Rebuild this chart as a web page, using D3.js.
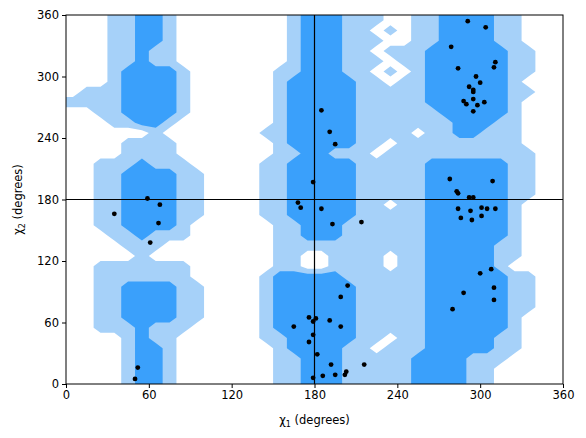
<!DOCTYPE html>
<html>
<head>
<meta charset="utf-8">
<script src="https://cdn.jsdelivr.net/npm/d3@7"></script>
<style>
  body { margin: 0; background: #fff; }
  text { font-family: "DejaVu Sans", sans-serif; }
</style>
</head>
<body>
<svg width="586" height="438"></svg>
<script>
const WIDTH = 586;
const HEIGHT = 438;
const margin = { top: 15, right: 23, bottom: 54, left: 66 };

const xTicks = [0, 60, 120, 180, 240, 300, 360];
const yTicks = [0, 60, 120, 180, 240, 300, 360];
const levelColors = ['#a6d1f9', '#3aa0fb'];

// density levels per 10-degree cell, rows from chi2 = 360 down to 0,
// each row is a list of [firstColumn, lastColumn, level] runs (chi1 columns of 10 degrees)
const densityRows = [
  [[3,7,1],[5,6,2],[16,22,1],[17,19,2],[25,32,1],[27,30,2]],
  [[3,7,1],[5,6,2],[16,21,1],[17,19,2],[23,23,1],[25,32,1],[27,30,2]],
  [[3,7,1],[5,6,2],[16,22,1],[17,19,2],[25,32,1],[27,30,2]],
  [[3,7,1],[5,5,2],[16,21,1],[17,19,2],[23,24,1],[25,33,1],[26,31,2]],
  [[3,7,1],[5,5,2],[16,22,1],[17,19,2],[24,33,1],[26,31,2]],
  [[3,8,1],[4,7,2],[15,21,1],[17,19,2],[23,23,1],[25,33,1],[26,31,2]],
  [[3,8,1],[4,7,2],[15,22,1],[16,20,2],[24,32,1],[26,31,2]],
  [[1,8,1],[4,7,2],[22,24,1],[15,21,1],[16,20,2],[25,33,1],[26,31,2]],
  [[0,0,1],[1,8,1],[4,7,2],[22,24,1],[15,22,1],[16,20,2],[24,32,1],[26,31,2]],
  [[2,8,1],[4,7,2],[22,24,1],[15,21,1],[16,20,2],[25,32,1],[27,31,2]],
  [[3,7,1],[5,6,2],[22,24,1],[15,22,1],[16,20,2],[24,32,1],[28,30,2]],
  [[6,6,1],[22,24,1],[14,21,1],[16,20,2],[26,32,1],[28,29,2]],
  [[4,7,1],[22,24,1],[15,22,1],[16,20,2],[25,32,1]],
  [[4,7,1],[22,24,1],[15,21,1],[17,18,2],[25,33,1]],
  [[2,8,1],[5,5,2],[22,24,1],[14,22,1],[16,20,2],[24,33,1],[26,31,2]],
  [[2,9,1],[4,7,2],[22,24,1],[14,22,1],[16,20,2],[24,33,1],[26,31,2]],
  [[2,9,1],[4,7,2],[22,24,1],[14,22,1],[16,20,2],[24,33,1],[26,31,2]],
  [[2,9,1],[4,7,2],[22,24,1],[14,22,1],[16,20,2],[24,33,1],[26,31,2]],
  [[2,9,1],[4,7,2],[22,24,1],[14,22,1],[16,20,2],[24,32,1],[26,31,2]],
  [[2,9,1],[4,7,2],[22,24,1],[14,22,1],[16,20,2],[25,32,1],[26,31,2]],
  [[2,8,1],[4,7,2],[22,24,1],[15,21,1],[17,19,2],[24,32,1],[26,31,2]],
  [[3,8,1],[5,5,2],[22,24,1],[15,21,1],[17,19,2],[25,32,1],[26,31,2]],
  [[4,6,1],[22,24,1],[15,23,1],[25,32,1],[26,30,2]],
  [[5,5,1],[22,24,1],[15,22,1],[17,18,0],[24,32,1],[26,30,2]],
  [[2,8,1],[22,24,1],[15,23,1],[17,18,0],[25,31,1],[26,30,2]],
  [[2,8,1],[22,24,1],[14,22,1],[15,19,2],[24,33,1],[26,31,2]],
  [[2,9,1],[4,7,2],[22,24,1],[14,23,1],[15,20,2],[25,33,1],[26,31,2]],
  [[2,9,1],[4,7,2],[22,24,1],[14,22,1],[15,20,2],[24,33,1],[26,31,2]],
  [[2,9,1],[4,7,2],[22,24,1],[14,23,1],[15,20,2],[25,33,1],[26,31,2]],
  [[2,9,1],[4,7,2],[22,24,1],[14,22,1],[15,20,2],[24,32,1],[26,31,2]],
  [[2,8,1],[5,5,2],[22,24,1],[14,22,1],[15,20,2],[25,32,1],[26,31,2]],
  [[4,7,1],[5,5,2],[22,24,1],[14,22,1],[16,20,2],[24,32,1],[26,30,2]],
  [[4,7,1],[5,6,2],[22,24,1],[15,22,1],[16,19,2],[24,32,1],[26,30,2]],
  [[4,7,1],[5,6,2],[22,24,1],[15,22,1],[17,19,2],[24,31,1],[25,28,2]],
  [[4,7,1],[5,6,2],[22,24,1],[15,21,1],[17,19,2],[24,30,1],[25,28,2]],
  [[4,7,1],[5,6,2],[22,24,1],[15,21,1],[17,19,2],[24,30,1],[25,28,2]]
];
// white holes inside the light region, [row, column]
const holes = [[12,23],[13,22],[23,23],[24,23],[31,23],[32,22],[18,23]];

const chi1 = [59,68,35,67,61,52,50,
  185,191,195,179,168,170,185,193,214,204,199,176,181,179,191,165,199,179,176,182,192,216,186,195,202,203,179,
  291,304,279,311,310,284,297,300,292,295,295,295,288,290,298,303,295,278,309,283,284,292,295,284,293,301,305,311,286,294,301,300,308,310,288,310,280];
const chi2 = [181,175,166,157,138,16,5,
  267,246,234,197,177,172,171,156,158,96,85,65,64,61,62,56,56,48,41,29,19,19,8,9,9,12,6,
  354,348,329,314,309,308,300,294,290,287,285,278,276,273,272,275,266,200,198,188,186,182,182,171,169,172,171,171,162,160,164,108,112,94,89,82,73];

const svg = d3.select('svg');
const innerW = WIDTH - margin.left - margin.right;
const innerH = HEIGHT - margin.top - margin.bottom;

const xScale = d3.scaleLinear().domain([0, 360]).range([0, innerW]);
const yScale = d3.scaleLinear().domain([0, 360]).range([innerH, 0]);

// grid padded by one cell on every side (edge values repeated)
const n = 36;
const cells = densityRows.map(row => {
  const line = new Array(n).fill(0);
  row.forEach(([a, b, v]) => { for (let c = a; c <= b; c++) line[c] = v; });
  return line;
});
holes.forEach(([r, c]) => { cells[r][c] = 0; });
const gw = n + 2;
const values = new Array(gw * gw).fill(0);
for (let gy = 0; gy < gw; gy++) {
  for (let gx = 0; gx < gw; gx++) {
    const r = Math.min(n - 1, Math.max(0, gy - 1));
    const c = Math.min(n - 1, Math.max(0, gx - 1));
    values[gy * gw + gx] = cells[r][c];
  }
}
const contours = d3.contours().size([gw, gw]).thresholds([0.5, 1.5])(values);
const gToX = g => xScale((g - 1) * 10);
const gToY = g => yScale(360 - (g - 1) * 10);
const proj = d3.geoTransform({
  point(x, y) { this.stream.point(gToX(x), gToY(y)); }
});
const path = d3.geoPath(proj);

svg.append('defs').append('clipPath').attr('id', 'clip')
  .append('rect').attr('width', innerW).attr('height', innerH);

const plot = svg.append('g').attr('transform', `translate(${margin.left},${margin.top})`);

plot.append('g').attr('clip-path', 'url(#clip)')
  .selectAll('path')
  .data(contours)
  .enter()
  .append('path')
  .attr('d', path)
  .attr('fill', (d, i) => levelColors[i]);

plot.append('line')
  .attr('x1', xScale(180)).attr('x2', xScale(180))
  .attr('y1', 0).attr('y2', innerH)
  .attr('stroke', '#000').attr('stroke-width', 1.2);
plot.append('line')
  .attr('x1', 0).attr('x2', innerW)
  .attr('y1', yScale(180)).attr('y2', yScale(180))
  .attr('stroke', '#000').attr('stroke-width', 1.2);

plot.selectAll('circle')
  .data(chi1)
  .enter()
  .append('circle')
  .attr('cx', (d, i) => xScale(d))
  .attr('cy', (d, i) => yScale(chi2[i]))
  .attr('r', 2.4)
  .attr('fill', '#000');

plot.append('rect')
  .attr('width', innerW).attr('height', innerH)
  .attr('fill', 'none').attr('stroke', '#000').attr('stroke-width', 1);

const bottomAxis = d3.axisBottom(xScale).tickValues(xTicks).tickSize(4).tickPadding(3);
const leftAxis = d3.axisLeft(yScale).tickValues(yTicks).tickSize(4).tickPadding(3);
const gx = plot.append('g').attr('transform', `translate(0,${innerH})`).call(bottomAxis);
const gy = plot.append('g').call(leftAxis);
[gx, gy].forEach(g => {
  g.select('.domain').remove();
  g.selectAll('text').attr('font-size', 11.5).attr('fill', '#000')
    .attr('font-family', 'DejaVu Sans, sans-serif');
  g.selectAll('line').attr('stroke', '#000');
});

const xl = svg.append('text')
  .attr('x', margin.left + innerW / 2).attr('y', 424)
  .attr('text-anchor', 'middle').attr('font-size', 11.5);
xl.append('tspan').text('χ');
xl.append('tspan').text('1').attr('font-size', 8).attr('dy', 3);
xl.append('tspan').text(' (degrees)').attr('dy', -3);

const yl = svg.append('text')
  .attr('transform', `translate(22,${margin.top + innerH / 2}) rotate(-90)`)
  .attr('text-anchor', 'middle').attr('font-size', 11.5);
yl.append('tspan').text('χ');
yl.append('tspan').text('2').attr('font-size', 8).attr('dy', 3);
yl.append('tspan').text(' (degrees)').attr('dy', -3);
</script>
</body>
</html>
